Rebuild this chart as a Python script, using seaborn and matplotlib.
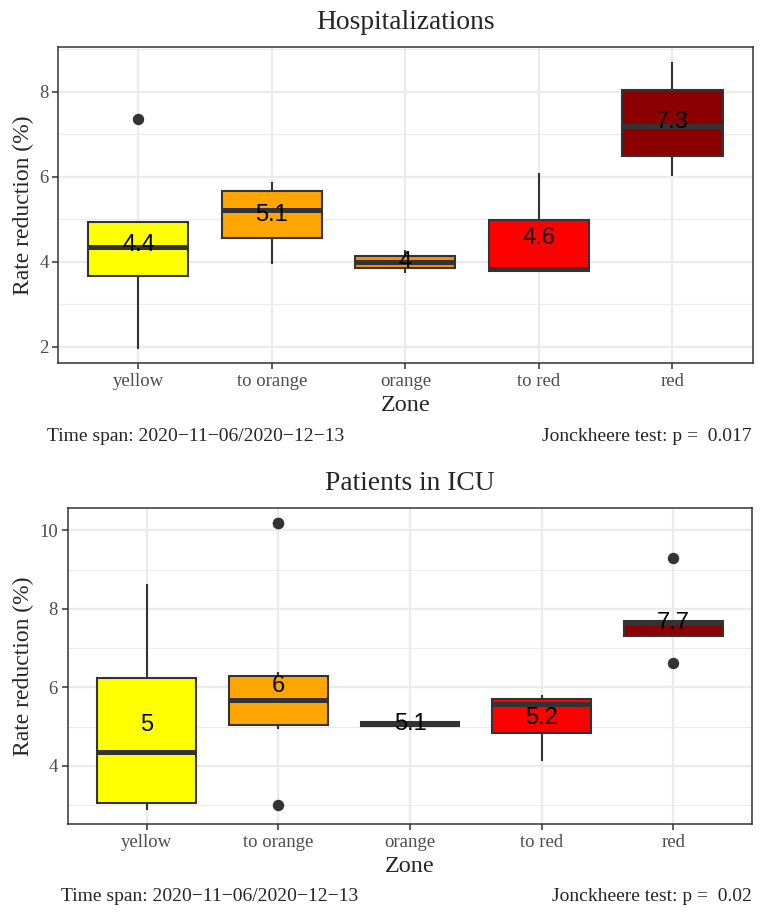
import numpy as np
import pandas as pd
import seaborn as sns
import matplotlib.pyplot as plt
from matplotlib.ticker import MultipleLocator

zones = ['yellow', 'to orange', 'orange', 'to red', 'red']
zone_colors = ['#FFFF00', '#FFA500', '#FF8C00', '#FF0000', '#8B0000']

# rate reduction (%) per zone - hospitalizations
hosp_yellow = [1.95, 3.40, 3.66, 4.10, 4.35, 4.92, 4.93, 4.93, 7.36]
hosp_to_orange = [3.95, 4.30, 4.55, 5.00, 5.21, 5.60, 5.66, 5.76, 5.87]
hosp_orange = [3.73, 3.85, 3.99, 4.13, 4.27]
hosp_to_red = [3.75, 3.78, 3.79, 3.83, 3.84, 4.90, 4.99, 6.07, 6.09]
hosp_red = [6.03, 6.49, 7.19, 8.05, 8.71]

# rate reduction (%) per zone - patients in ICU
icu_yellow = [2.88, 3.05, 4.36, 6.23, 8.63]
icu_to_orange = [3.00, 4.94, 4.95, 5.03, 5.05, 5.10, 5.67, 5.70, 5.80, 6.30, 6.40, 10.20, 10.20]
icu_orange = [5.00, 5.01, 5.06, 5.11, 5.12]
icu_to_red = [4.11, 4.83, 5.57, 5.71, 5.81]
icu_red = [6.63, 7.31, 7.31, 7.64, 7.69, 7.69, 9.30]

titles = ['Hospitalizations', 'Patients in ICU']
time_span = 'Time span: 2020\u221211\u221206/2020\u221212\u221213'
p_values = ['0.017', '0.02']


def to_frame(groups):
    rows = []
    for zone, vals in zip(zones, groups):
        for v in vals:
            rows.append((zone, v))
    return pd.DataFrame(rows, columns=['Zone', 'value'])


panels = [
    to_frame([hosp_yellow, hosp_to_orange, hosp_orange, hosp_to_red, hosp_red]),
    to_frame([icu_yellow, icu_to_orange, icu_orange, icu_to_red, icu_red]),
]

sns.set_theme(style='white')
plt.rcParams['font.family'] = ['Liberation Serif', 'DejaVu Serif']

fig = plt.figure(figsize=(7.64, 9.19), dpi=100)
axes = [fig.add_axes([0.0763, 0.6047, 0.9087, 0.3439]),
        fig.add_axes([0.0886, 0.1034, 0.8963, 0.3435])]
caption_x = [47 / 764, 61 / 764]

for i, (ax, df) in enumerate(zip(axes, panels)):
    sns.boxplot(data=df, x='Zone', y='value', hue='Zone', order=zones, hue_order=zones,
                palette=dict(zip(zones, zone_colors)), saturation=1, width=0.75,
                linecolor='#333333', linewidth=1.5, showcaps=False, fliersize=7.2,
                flierprops={'marker': 'o', 'markerfacecolor': '#333333',
                            'markeredgecolor': '#333333'},
                medianprops={'linewidth': 3.6}, legend=False, ax=ax)

    # mean labels
    means = df.groupby('Zone')['value'].mean().reindex(zones)
    for j, m in enumerate(means):
        ax.text(j, m, f'{round(m, 1):g}', ha='center', va='center', fontsize=17,
                family='Liberation Sans', color='black', zorder=6)

    lo, hi = df['value'].min(), df['value'].max()
    pad = (hi - lo) * 0.05
    ax.set_ylim(lo - pad, hi + pad)
    ax.set_xlim(-0.6, 4.6)

    ax.yaxis.set_major_locator(MultipleLocator(2))
    ax.yaxis.set_minor_locator(MultipleLocator(1))
    ax.grid(which='major', color='#EBEBEB', linewidth=1.6)
    ax.grid(which='minor', axis='y', color='#EBEBEB', linewidth=0.8)
    ax.set_axisbelow(True)
    for s in ax.spines.values():
        s.set_color('#333333')
        s.set_linewidth(1.1)

    ax.tick_params(which='major', length=4, width=1.1, color='#333333',
                   labelcolor='#4D4D4D', labelsize=13.5, pad=3, bottom=True, left=True)
    ax.tick_params(which='minor', length=0)

    ax.set_title(titles[i], fontsize=19.8, pad=13)
    ax.set_xlabel('Zone', fontsize=17.5, labelpad=3.5)
    ax.set_ylabel('Rate reduction (%)', fontsize=17, labelpad=4)

    bottom_px = (1 - (ax.get_position().y0)) * 919
    cap_y = 1 - (bottom_px + 73) / 919
    fig.text(caption_x[i], cap_y, time_span, ha='left', va='center', fontsize=14)
    fig.text(752 / 764, cap_y, f'Jonckheere test: p =  {p_values[i]}', ha='right',
             va='center', fontsize=14)

fig.savefig('out.png', dpi=100)
